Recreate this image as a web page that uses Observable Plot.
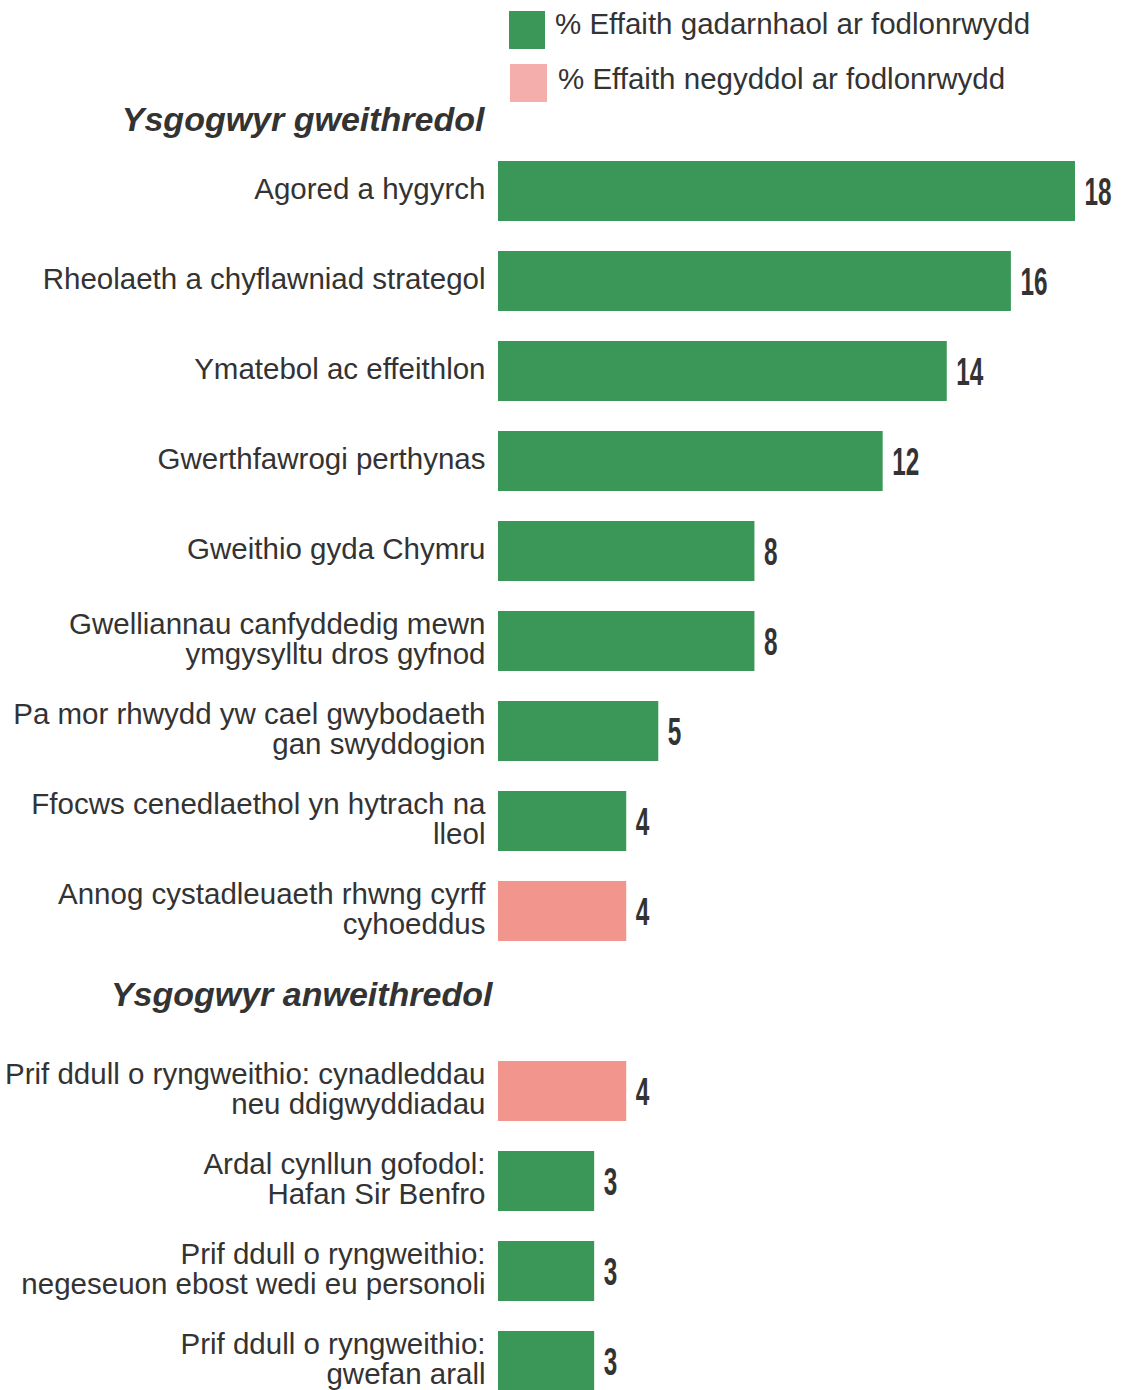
<!DOCTYPE html>
<html>
<head>
<meta charset="utf-8">
<script src="https://cdn.jsdelivr.net/npm/d3@7"></script>
<script src="https://cdn.jsdelivr.net/npm/@observablehq/plot@0.6"></script>
<style>
  html, body { margin: 0; padding: 0; background: #fff; }
  body { width: 1121px; overflow: hidden; font-family: "Liberation Sans", Arial, sans-serif; color: #333; }
  #legend { position: relative; height: 110px; z-index: 2; }
  .sw { position: absolute; }
  .lt { position: absolute; font-size: 29.5px; line-height: 1; white-space: nowrap; color: #333; }
</style>
</head>
<body>
<div id="legend"></div>
<div id="chart"></div>
<script>
// ---- data ----
const sections = ["Ysgogwyr gweithredol", "Ysgogwyr anweithredol"];
const categories = [
  "Agored a hygyrch",
  "Rheolaeth a chyflawniad strategol",
  "Ymatebol ac effeithlon",
  "Gwerthfawrogi perthynas",
  "Gweithio gyda Chymru",
  "Gwelliannau canfyddedig mewn\nymgysylltu dros gyfnod",
  "Pa mor rhwydd yw cael gwybodaeth\ngan swyddogion",
  "Ffocws cenedlaethol yn hytrach na\nlleol",
  "Annog cystadleuaeth rhwng cyrff\ncyhoeddus",
  "Prif ddull o ryngweithio: cynadleddau\nneu ddigwyddiadau",
  "Ardal cynllun gofodol:\nHafan Sir Benfro",
  "Prif ddull o ryngweithio:\nnegeseuon ebost wedi eu personoli",
  "Prif ddull o ryngweithio:\ngwefan arall"
];
const values = [18, 16, 14, 12, 8, 8, 5, 4, 4, 4, 3, 3, 3];
const effect = ["pos","pos","pos","pos","pos","pos","pos","pos","neg","neg","pos","pos","pos"];
const sectionOf = [0,0,0,0,0,0,0,0,0,1,1,1,1];
const legendLabels = ["% Effaith gadarnhaol ar fodlonrwydd", "% Effaith negyddol ar fodlonrwydd"];

// ---- colours ----
const GREEN = "#3b9757";
const PINK = "#f1958d";
const PINK_LEGEND = "#f4aeab";
const TEXT = "#333333";

// ---- legend (HTML above the SVG) ----
const legend = document.getElementById("legend");
legend.innerHTML = `
  <div class="sw" style="left:509px;top:11px;width:36px;height:38px;background:${GREEN}"></div>
  <div class="lt" style="left:555px;top:9px;">${legendLabels[0]}</div>
  <div class="sw" style="left:510px;top:64px;width:37px;height:38px;background:${PINK_LEGEND}"></div>
  <div class="lt" style="left:558px;top:64px;">${legendLabels[1]}</div>
`;

// ---- table built from arrays ----
const rows = categories.map((c, i) => ({key: "r" + i, label: c, value: values[i], effect: effect[i], section: sectionOf[i]}));
const domain = ["H0", ...rows.filter(r => r.section === 0).map(r => r.key), "H1", ...rows.filter(r => r.section === 1).map(r => r.key)];
const headers = [{key: "H0", text: sections[0]}, {key: "H1", text: sections[1]}];

const chart = Plot.plot({
  width: 1121,
  height: 1280,
  marginTop: 0, marginBottom: 0, marginLeft: 0, marginRight: 0,
  style: {fontFamily: "'Liberation Sans', Arial, sans-serif", color: TEXT, overflow: "visible"},
  x: {domain: [0, 18], range: [498, 1075], axis: null},
  y: {domain, range: [-54, 1296], paddingInner: 1/3, paddingOuter: 1/6, axis: null},
  color: {domain: ["pos", "neg"], range: [GREEN, PINK]},
  marks: [
    Plot.barX(rows, {y: "key", x: "value", fill: "effect"}),
    Plot.text(rows, {y: "key", x: 0, text: "label", textAnchor: "end", dx: -13, dy: -2, fontSize: 29.5, lineHeight: 1.0, fill: TEXT}),
    Plot.text(rows, {y: "key", x: "value", text: d => String(d.value), textAnchor: "start", dx: 9, dy: 1, fontSize: 32, fontWeight: "bold", fill: TEXT, className: "vals"}),
    Plot.text(headers.slice(0,1), {y: "key", x: 0, text: "text", textAnchor: "end", dx: -14, dy: 19, fontSize: 34, fontWeight: "bold", fontStyle: "italic", fill: TEXT}),
    Plot.text(headers.slice(1), {y: "key", x: 0, text: "text", textAnchor: "end", dx: -6, dy: -6, fontSize: 34, fontWeight: "bold", fontStyle: "italic", fill: TEXT})
  ]
});
// condense value labels like the narrow font of the original
chart.querySelectorAll(".vals text").forEach(t => {
  const tr = t.getAttribute("transform") || "";
  t.setAttribute("transform", tr + " scale(0.76,1.22)");
});
document.getElementById("chart").appendChild(chart);
</script>
</body>
</html>
